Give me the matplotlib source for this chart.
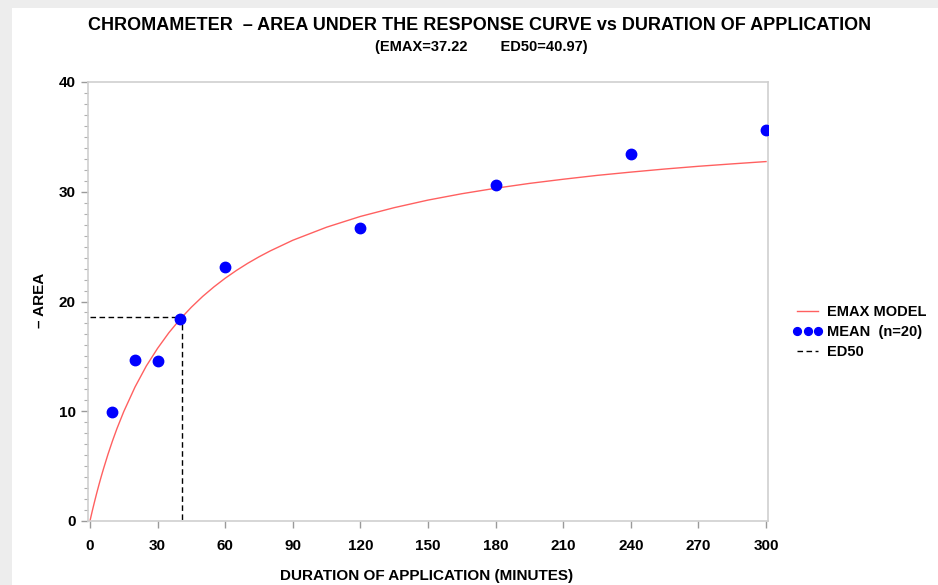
import matplotlib.pyplot as plt
from matplotlib.patches import Rectangle

# data
emax = 37.22
ed50 = 40.97
ed50_level = 18.61

dose = [10, 20, 30, 40, 60, 120, 180, 240, 300]
mean_area = [9.9, 14.7, 14.6, 18.4, 23.1, 26.7, 30.6, 33.4, 35.6]

# fitted EMAX curve, read at these durations
curve_x = [0, 1, 2, 3, 4, 5, 6, 8, 10, 12, 15, 20, 25, 30, 35, 40, 45, 50, 55,
           60, 65, 70, 75, 80, 90, 105, 120, 135, 150, 165, 180, 195, 210,
           225, 240, 255, 270, 285, 300]
curve_y = [0, 0.89, 1.73, 2.54, 3.31, 4.05, 4.75, 6.08, 7.30, 8.43, 9.97,
           12.21, 14.12, 15.73, 17.15, 18.39, 19.48, 20.46, 21.33, 22.12,
           22.83, 23.48, 24.07, 24.61, 25.58, 26.77, 27.75, 28.55, 29.24,
           29.82, 30.32, 30.76, 31.14, 31.49, 31.79, 32.07, 32.32, 32.54, 32.75]

xticks = list(range(0, 301, 30))
yticks = [0, 10, 20, 30, 40]

plt.rcParams['font.family'] = ['Liberation Sans Narrow', 'Liberation Sans', 'DejaVu Sans']
plt.rcParams['font.weight'] = 'bold'

fig = plt.figure(figsize=(9.38, 5.85), dpi=100)
fig.patch.set_facecolor('#ededed')
fig.patches.append(Rectangle((12 / 938, 0), 1, 1 - 8 / 585, transform=fig.transFigure,
                             facecolor='white', edgecolor='none', zorder=-10))

ax = fig.add_axes([87.7 / 938, (585 - 521) / 585, (768.3 - 87.7) / 938, 439 / 585])
ax.set_facecolor('white')

ax.plot(curve_x, curve_y, color='#ff6060', lw=1.0, label='EMAX MODEL', zorder=2)
ax.plot(dose, mean_area, 'o', color='#0000ff', ms=7.5, label='MEAN  (n=20)', zorder=3)
ax.plot([0, ed50, ed50], [ed50_level, ed50_level, 0], color='black', ls='--',
        dashes=(4, 2.5), lw=1.0, label='ED50', zorder=2)

ax.set_xlim(-1, 301)
ax.set_ylim(0, 40)
ax.set_xticks(xticks)
ax.set_yticks(yticks)
ax.set_yticks(range(0, 41), minor=True)

for s in ax.spines.values():
    s.set_color('#cfcfcf')
    s.set_linewidth(1.2)
ax.tick_params(axis='both', which='major', colors='#9a9a9a', labelcolor='black',
               labelsize=11, length=5, width=1)
ax.tick_params(axis='y', which='minor', colors='#b0b0b0', length=3, width=0.8)
ax.tick_params(axis='x', pad=8)

fig.text(427 / 938, 1 - 576 / 585, 'DURATION OF APPLICATION (MINUTES)',
         ha='center', va='center', fontsize=11, weight='bold')
fig.text(40 / 938, 1 - 300 / 585, '– AREA', rotation=90,
         ha='center', va='center', fontsize=11, weight='bold')

fig.text(480 / 938, 1 - 25 / 585, 'CHROMAMETER  – AREA UNDER THE RESPONSE CURVE vs DURATION OF APPLICATION',
         ha='center', va='center', fontsize=13, weight='bold')
fig.text(481 / 938, 1 - 47 / 585, '(EMAX=37.22        ED50=40.97)',
         ha='center', va='center', fontsize=10.5, weight='bold')

leg = ax.legend(loc='center left', bbox_to_anchor=(793 / 938, 1 - 332 / 585),
                bbox_transform=fig.transFigure, frameon=False, borderpad=0,
                borderaxespad=0, fontsize=10.5, handlelength=2.0,
                handletextpad=0.3, labelspacing=0.4, numpoints=3,
                markerscale=0.75)

fig.savefig('out.png', dpi=100, facecolor=fig.get_facecolor())
